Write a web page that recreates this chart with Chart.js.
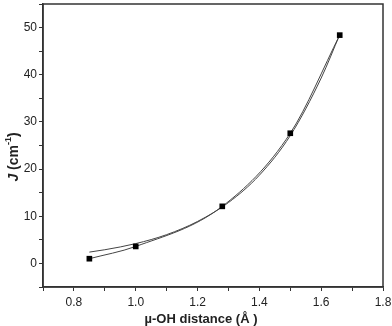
<!DOCTYPE html>
<html>
<head>
<meta charset="utf-8">
<script src="https://cdn.jsdelivr.net/npm/chart.js@4/dist/chart.umd.min.js"></script>
<style>
  html, body { margin: 0; padding: 0; background: #fff; }
  #wrap { width: 392px; height: 326px; }
</style>
</head>
<body>
<div id="wrap"><canvas id="jChart"></canvas></div>
<script>
// measured points
var distances = [0.85, 1.0, 1.28, 1.5, 1.66];
var jValues = [1.0, 3.6, 12.1, 27.6, 48.4];

// fitted curve
var fitX = [0.85, 0.9, 1.0, 1.1, 1.2, 1.3, 1.4, 1.5, 1.6, 1.66];
var fitY = [2.4, 2.9, 4.2, 6.1, 8.9, 12.9, 18.7, 27.1, 39.3, 48.5];

var xTitle = "\u00b5-OH distance (\u00c5 )";

function pairs(xs, ys) {
  return xs.map(function (x, i) { return { x: x, y: ys[i] }; });
}

var family = "'Liberation Sans', Arial, sans-serif";

// box round the plot, plus the two axis titles
var frame = {
  id: "frame",
  afterDraw: function (chart) {
    var a = chart.chartArea;
    var ctx = chart.ctx;
    ctx.save();
    ctx.strokeStyle = "#333";
    ctx.lineWidth = 1.5;
    ctx.strokeRect(a.left, a.top, a.right - a.left, a.bottom - a.top);

    ctx.fillStyle = "#222";
    ctx.textBaseline = "middle";
    ctx.textAlign = "center";
    ctx.font = "bold 13px " + family;
    ctx.fillText(xTitle, 201, 319);

    // y title: J (cm-1), J in italics, -1 raised
    ctx.translate(14, 157);
    ctx.rotate(-Math.PI / 2);
    var parts = [
      { t: "J", f: "italic bold 14px " + family, dy: 0 },
      { t: " (cm", f: "bold 14px " + family, dy: 0 },
      { t: "-1", f: "bold 9px " + family, dy: -5 },
      { t: ")", f: "bold 14px " + family, dy: 0 }
    ];
    var total = 0;
    parts.forEach(function (p) { ctx.font = p.f; total += ctx.measureText(p.t).width; });
    var x = -total / 2;
    ctx.textAlign = "left";
    parts.forEach(function (p) {
      ctx.font = p.f;
      ctx.fillText(p.t, x, p.dy);
      x += ctx.measureText(p.t).width;
    });
    ctx.restore();
  }
};

var font = { family: family, size: 12 };

new Chart(document.getElementById("jChart").getContext("2d"), {
  type: "line",
  data: {
    datasets: [
      {
        label: "fit",
        data: pairs(fitX, fitY),
        borderColor: "#444",
        borderWidth: 1,
        pointRadius: 0,
        cubicInterpolationMode: "monotone",
        order: 2
      },
      {
        label: "spline",
        data: pairs(distances, jValues),
        borderColor: "#444",
        borderWidth: 1,
        pointRadius: 0,
        cubicInterpolationMode: "monotone",
        order: 1
      },
      {
        label: "J",
        data: pairs(distances, jValues),
        showLine: false,
        pointStyle: "rect",
        pointRadius: 4,
        pointBackgroundColor: "#000",
        pointBorderColor: "#000",
        pointBorderWidth: 0,
        order: 0
      }
    ]
  },
  options: {
    responsive: true,
    maintainAspectRatio: false,
    animation: false,
    layout: { padding: { top: 2, right: 9, left: 0, bottom: 0 } },
    plugins: { legend: { display: false }, tooltip: { enabled: false } },
    scales: {
      x: {
        type: "linear",
        min: 0.7,
        max: 1.8,
        afterFit: function (s) {
          s.height = 39;
          s.paddingLeft = 0;
          s.paddingRight = 0;
        },
        border: { display: true, color: "#333", width: 1.5 },
        grid: { drawOnChartArea: false, drawTicks: true, tickLength: 4, color: "#333" },
        ticks: {
          stepSize: 0.1,
          padding: 4,
          maxRotation: 0,
          color: "#222",
          font: font,
          callback: function (v) {
            var n = Math.round(v * 10);
            return n % 2 === 0 ? (n / 10).toFixed(1) : "";
          }
        }
      },
      y: {
        type: "linear",
        min: -5,
        max: 55,
        afterFit: function (s) {
          s.width = 43;
          s.paddingTop = 0;
          s.paddingBottom = 0;
        },
        border: { display: true, color: "#333", width: 1.5 },
        grid: { drawOnChartArea: false, drawTicks: true, tickLength: 4, color: "#333" },
        ticks: {
          stepSize: 5,
          padding: 2,
          color: "#222",
          font: font,
          callback: function (v) {
            return v % 10 === 0 ? String(v) : "";
          }
        }
      }
    }
  },
  plugins: [frame]
});
</script>
</body>
</html>
